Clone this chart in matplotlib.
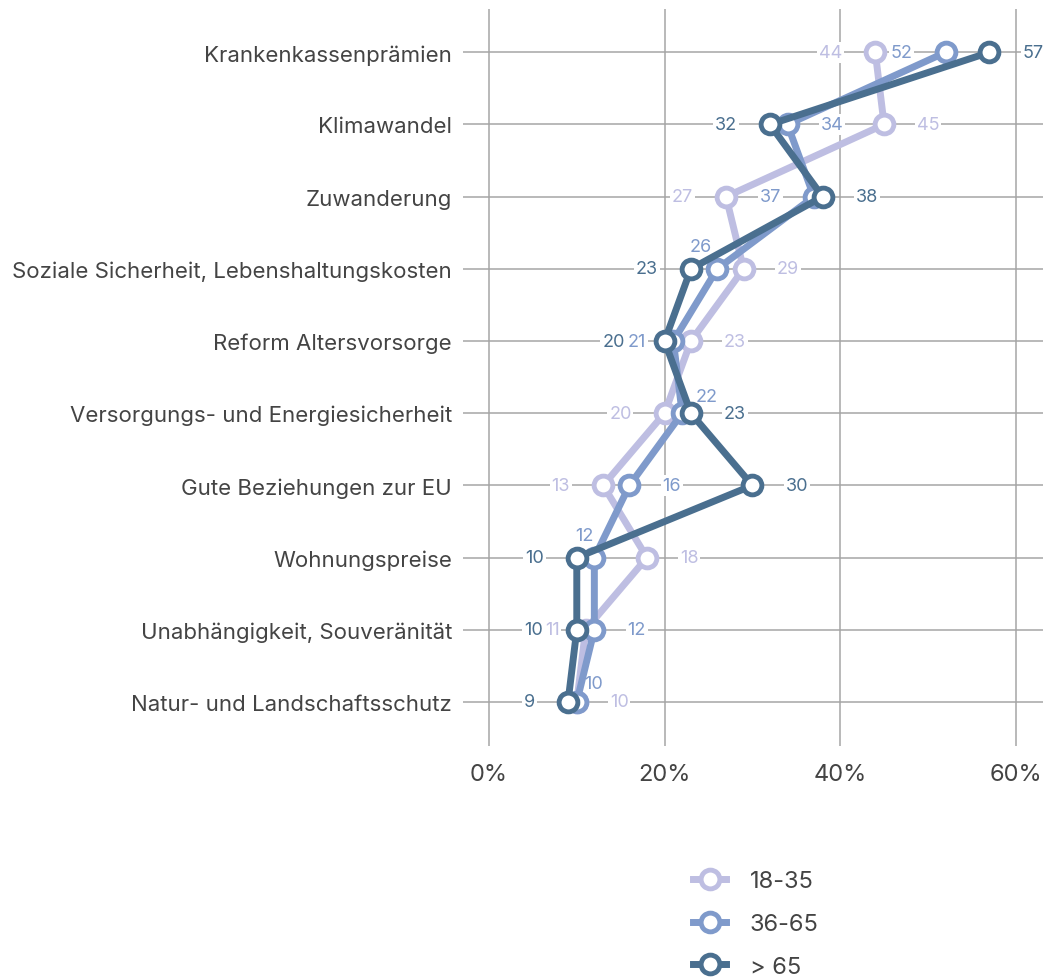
import matplotlib.pyplot as plt
from matplotlib.lines import Line2D

# Themen (von oben nach unten)
themen = ["Krankenkassenprämien", "Klimawandel", "Zuwanderung",
          "Soziale Sicherheit, Lebenshaltungskosten", "Reform Altersvorsorge",
          "Versorgungs- und Energiesicherheit", "Gute Beziehungen zur EU",
          "Wohnungspreise", "Unabhängigkeit, Souveränität",
          "Natur- und Landschaftsschutz"]

gruppen = ["18-35", "36-65", "> 65"]
werte_18_35 = [44, 45, 27, 29, 23, 20, 13, 18, 11, 10]
werte_36_65 = [52, 34, 37, 26, 21, 22, 16, 12, 12, 10]
werte_65 = [57, 32, 38, 23, 20, 23, 30, 10, 10, 9]

farben = ["#bebee2", "#7f9acb", "#4a6f8f"]

# wo die Zahl neben dem Punkt steht: l = links, r = rechts, o = oben
lage = [
    ["l", "r", "l", "r", "r", "l", "l", "r", "l", "r"],
    ["l", "r", "l", "o", "l", "o", "r", "o", "r", "o"],
    ["r", "l", "r", "l", "l", "r", "r", "l", "l", "l"],
]
# Versatz (Pixel) der Zahlen oberhalb
oben = {(1, 3): (-17, 22), (1, 5): (24, 17), (1, 7): (-10, 22), (1, 9): (17, 18)}
# abweichender Abstand (Pixel) bei eng stehenden Zahlen
abstand = {(1, 4): 27, (2, 4): 40, (0, 8): 26, (2, 8): 34}

plt.rcParams['font.family'] = ['Inter', 'DejaVu Sans']

fig = plt.figure(figsize=(10.43, 9.79), dpi=100)
ax = fig.add_axes([463 / 1043, 1 - 747 / 979, 1 - 463 / 1043, (747 - 10) / 979])

y = list(range(len(themen)))
alle = [werte_18_35, werte_36_65, werte_65]

for i, werte in enumerate(alle):
    ax.plot(werte, y, color=farben[i], lw=5, marker="o", ms=13.5,
            mfc="white", mec=farben[i], mew=3.5, zorder=3 + i,
            solid_joinstyle="miter")

px = 72 / 100  # Pixel -> Punkte
for i, werte in enumerate(alle):
    for j, v in enumerate(werte):
        pos = lage[i][j]
        d = abstand.get((i, j), 33)
        if pos == "l":
            xy, ha, va = (-d * px, 0), "right", "center"
        elif pos == "r":
            xy, ha, va = (d * px, 0), "left", "center"
        else:
            dx, dy = oben[(i, j)]
            xy, ha, va = (dx * px, dy * px), "center", "center"
        ax.annotate(str(v), (v, j), xytext=xy, textcoords="offset points",
                    ha=ha, va=va, fontsize=13, color=farben[i], zorder=2,
                    bbox=dict(boxstyle="square,pad=0.1", fc="white", ec="none"))

ax.set_xlim(-2.96, 63.1)
ax.set_ylim(len(themen) - 1 + 0.61, -0.6)
ax.set_xticks([0, 20, 40, 60])
ax.set_xticklabels(["0%", "20%", "40%", "60%"])
ax.set_yticks(y)
ax.set_yticklabels(themen)
ax.tick_params(axis="y", length=0, pad=8, labelsize=16, labelcolor="#444444")
ax.tick_params(axis="x", length=0, pad=12, labelsize=17, labelcolor="#444444")
ax.grid(True, color="#a5a5a5", lw=1.1, zorder=0)
ax.set_axisbelow(True)
for s in ax.spines.values():
    s.set_visible(False)

griffe = [Line2D([], [], color=farben[i], lw=5, marker="o", ms=13.5,
                 mfc="white", mec=farben[i], mew=3.5) for i in range(3)]
fig.legend(griffe, gruppen, loc="upper left", bbox_to_anchor=(693 / 1043, 1 - 871 / 979),
           frameon=False, fontsize=17, handlelength=1.4, handletextpad=1.0,
           labelspacing=0.88, borderpad=0, borderaxespad=0, labelcolor="#444444")

fig.savefig("out.png", dpi=100)
